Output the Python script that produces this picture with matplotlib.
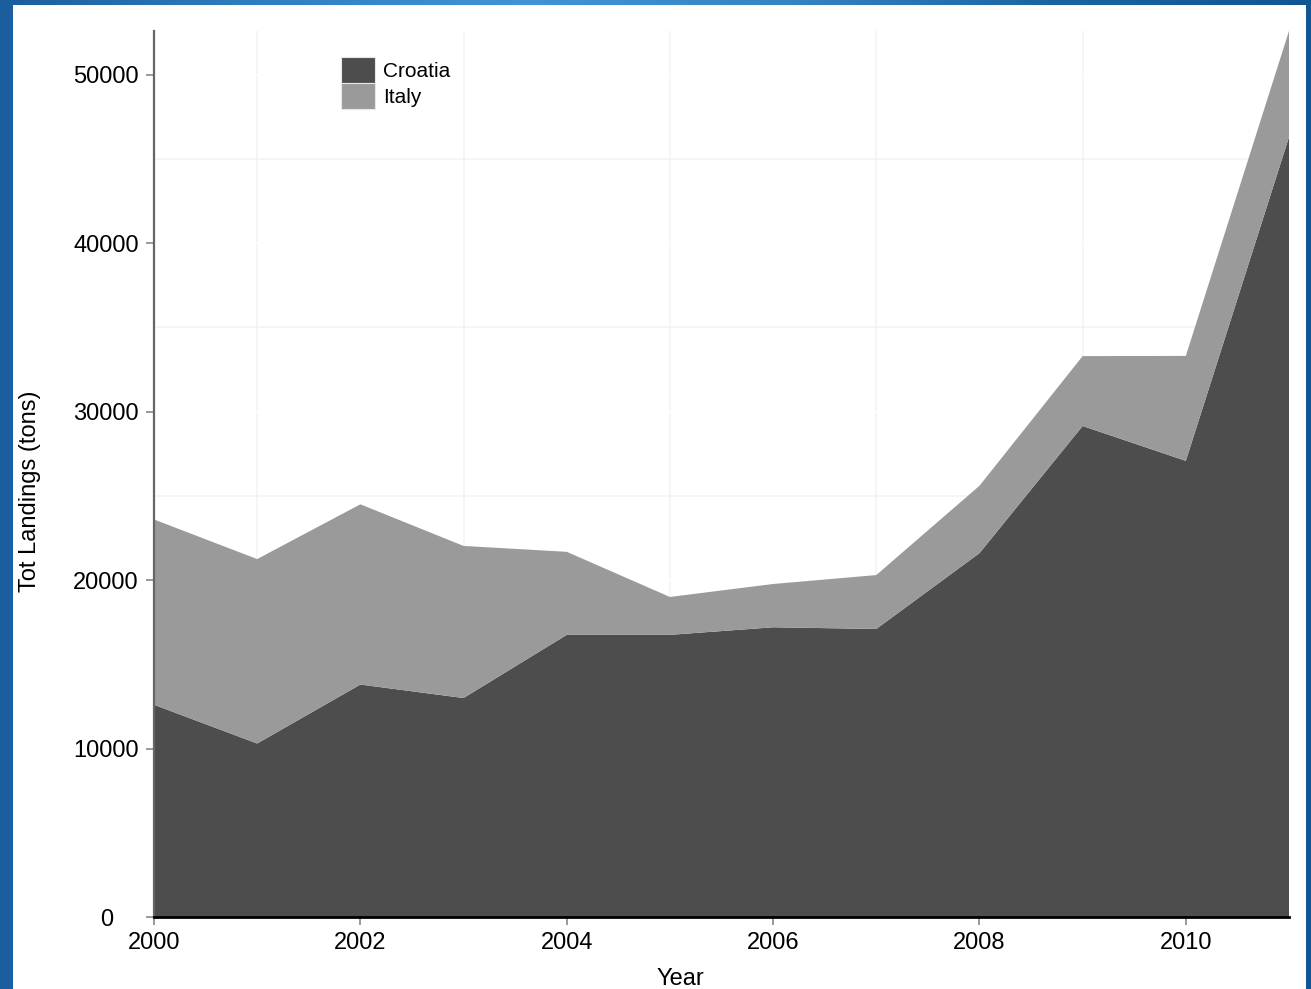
import numpy as np
import matplotlib
matplotlib.use("Agg")
import matplotlib.pyplot as plt
from matplotlib.colors import LinearSegmentedColormap
from matplotlib.patches import Rectangle
from matplotlib.ticker import MultipleLocator, FuncFormatter

years = [2000, 2001, 2002, 2003, 2004, 2005, 2006, 2007, 2008, 2009, 2010, 2011]
croatia = [12600, 10300, 13800, 13000, 16750, 16750, 17200, 17100, 21600, 29150, 27080, 46300]
italy = [11000, 10950, 10700, 9030, 4930, 2250, 2570, 3200, 4000, 4150, 6230, 6300]
series_names = ["Croatia", "Italy"]
series_colors = ["#4d4d4d", "#9a9a9a"]

plt.rcParams['font.family'] = ['Liberation Sans', 'DejaVu Sans']
FS = 17

fig = plt.figure(figsize=(13.11, 9.89), dpi=100)

# blue slide-like background with white panel on top
bg = fig.add_axes([0, 0, 1, 1], zorder=-10)
grad = np.linspace(0, 1, 256)[None, :]
cmap = LinearSegmentedColormap.from_list(
    "slide", ["#1a5e9e", "#2f7fc0", "#4194d4", "#3584c4", "#1b64a4", "#0f5694"])
bg.imshow(grad, aspect="auto", cmap=cmap, extent=[0, 1, 0, 1])
bg.add_patch(Rectangle((13 / 1311, 0), (1306 - 13) / 1311, 1 - 5 / 989,
                       facecolor="white", edgecolor="none"))
bg.set_xlim(0, 1)
bg.set_ylim(0, 1)
bg.axis("off")

ax = fig.add_axes([154 / 1311, 1 - 917 / 989, (1289 - 154) / 1311, (917 - 31) / 989])
ax.set_facecolor("none")

ax.stackplot(years, croatia, italy, labels=series_names, colors=series_colors,
             linewidth=0, zorder=2)

ax.set_xlim(2000, 2011)
ax.set_ylim(0, 52600)
ax.xaxis.set_major_locator(MultipleLocator(2))
ax.xaxis.set_minor_locator(MultipleLocator(1))
ax.yaxis.set_major_locator(MultipleLocator(10000))
ax.yaxis.set_minor_locator(MultipleLocator(5000))
# the zero label sits further left in the original, drawn separately below
ax.yaxis.set_major_formatter(FuncFormatter(lambda v, p: "" if v == 0 else f"{v:.0f}"))
ax.grid(which="minor", color="#f2f2f2", linewidth=1.1, zorder=0)
ax.grid(which="major", color="white", linewidth=1.2, zorder=0)
ax.set_axisbelow(True)

for s in ["top", "right"]:
    ax.spines[s].set_visible(False)
ax.spines["left"].set_color("#666666")
ax.spines["left"].set_linewidth(1.6)
ax.spines["bottom"].set_color("black")
ax.spines["bottom"].set_linewidth(2)
ax.spines["bottom"].set_zorder(3)

ax.tick_params(which="major", length=6, width=1.2, color="#888888",
               labelsize=FS, pad=5, labelcolor="black")
ax.tick_params(which="minor", length=0)
ax.text(-41 / 1135, -3 / 886, "0", transform=ax.transAxes, ha="right", va="center",
        fontsize=FS)

ax.set_xlabel("Year", fontsize=FS, va="center")
ax.set_ylabel("Tot Landings (tons)", fontsize=FS, va="center")
ax.xaxis.set_label_coords((680 - 154) / 1135, (917 - 979) / 886)
ax.yaxis.set_label_coords((30 - 154) / 1135, (917 - 491) / 886)

leg = ax.legend(loc="upper left", bbox_to_anchor=((341 - 154) / 1135, (917 - 57) / 886),
                frameon=False, fontsize=15, handlelength=1.63, handleheight=1.55,
                handletextpad=0.4, labelspacing=0.0, borderpad=0, borderaxespad=0)
for h in leg.legend_handles:
    h.set_edgecolor("#e6e6e6")
    h.set_linewidth(0.8)

fig.savefig("out.png", dpi=100)
